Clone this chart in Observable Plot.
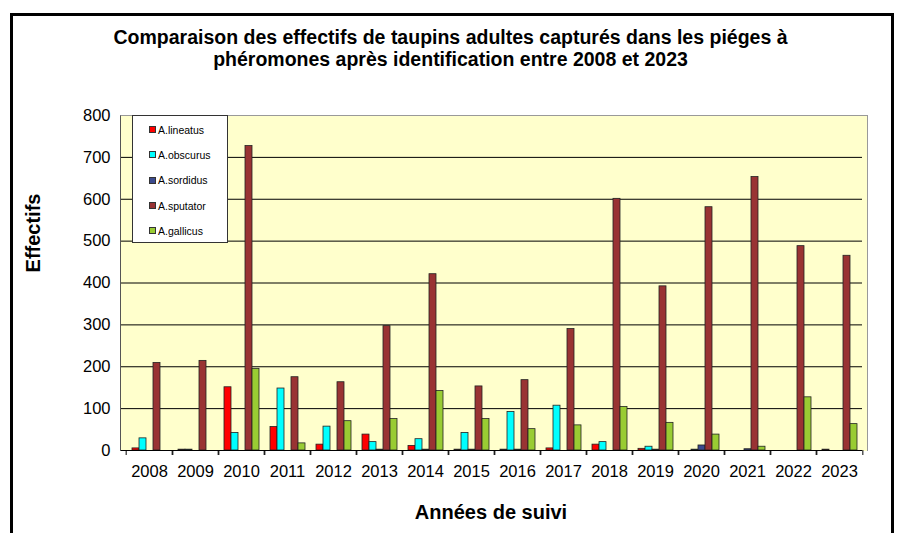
<!DOCTYPE html>
<html><head><meta charset="utf-8">
<script src="https://cdn.jsdelivr.net/npm/d3@7"></script>
<script src="https://cdn.jsdelivr.net/npm/@observablehq/plot@0.6"></script>
<style>
body{margin:0;background:#fff;font-family:"Liberation Sans",Arial,sans-serif;color:#000;}
#wrap{position:relative;width:901px;height:533px;overflow:hidden;background:#fff;}
#border{position:absolute;left:10px;top:13px;width:884px;height:540px;border:3px solid #000;box-sizing:border-box;}
#area{position:absolute;left:120px;top:115px;width:747px;height:336px;background:#ffffcc;box-sizing:border-box;}
#areaBorder{position:absolute;left:120px;top:115px;width:748px;height:336px;border-top:1px solid #999;border-right:1px solid #999;border-left:1px solid #555;box-sizing:border-box;pointer-events:none;}
#chart{position:absolute;left:0;top:0;}
#title{position:absolute;left:0;width:901px;top:26px;text-align:center;font-weight:bold;font-size:19.5px;line-height:22px;}
#ylabel{position:absolute;left:33px;top:233px;transform:translate(-50%,-50%) rotate(-90deg);font-weight:bold;font-size:20px;white-space:nowrap;}
#xlabel{position:absolute;left:491px;top:512px;transform:translate(-50%,-50%);font-weight:bold;font-size:20px;white-space:nowrap;}
#legend{position:absolute;left:132px;top:115px;width:96px;height:128px;background:#fff;border:1px solid #333;box-sizing:border-box;padding-top:1px;}
.item{height:25.3px;display:flex;align-items:center;padding-left:16px;font-size:10.5px;}
.sw{width:5px;height:5px;border:1px solid #333;margin-right:2px;}
</style></head>
<body>
<div id="wrap">
  <div id="area"></div>
  <div id="chart"></div>
  <div id="areaBorder"></div>
  <div id="border"></div>
  <div id="title">Comparaison des effectifs de taupins adultes capturés dans les piéges à<br>phéromones après identification entre 2008 et 2023</div>
  <div id="ylabel">Effectifs</div>
  <div id="xlabel">Années de suivi</div>
  <div id="legend"></div>
</div>
<script>
const years = ["2008","2009","2010","2011","2012","2013","2014","2015","2016","2017","2018","2019","2020","2021","2022","2023"];
const series = ["A.lineatus","A.obscurus","A.sordidus","A.sputator","A.gallicus"];
const colors = ["#ff0000","#00ffff","#3b4a8e","#993333","#99cc33"];
const lineatus = [5, 2, 151, 56, 14, 38, 11, 2, 2, 5, 14, 4, 0, 0, 0, 2];
const obscurus = [29, 2, 42, 148, 57, 20, 27, 42, 92, 107, 20, 9, 2, 0, 0, 0];
const sordidus = [0, 0, 0, 0, 0, 2, 2, 2, 2, 0, 0, 2, 12, 3, 0, 0];
const sputator = [209, 214, 727, 175, 163, 297, 421, 153, 168, 290, 601, 392, 581, 653, 488, 465];
const gallicus = [0, 0, 195, 17, 70, 75, 142, 75, 51, 60, 104, 66, 38, 9, 127, 63];
const yTicks = [0, 100, 200, 300, 400, 500, 600, 700, 800];

const values = [lineatus, obscurus, sordidus, sputator, gallicus];
const data = years.flatMap((yr, i) => series.map((s, j) => ({year: yr, series: s, value: values[j][i]})));

const W = 901, H = 533, mL = 120, mR = 34, mT = 115, mB = 83;
const bw = (W - mL - mR) / years.length;

const chart = Plot.plot({
  width: W, height: H,
  marginLeft: mL, marginRight: mR, marginTop: mT, marginBottom: mB,
  style: {background: "transparent", fontFamily: "Liberation Sans, Arial, sans-serif", fontSize: "16px", color: "#000", overflow: "visible"},
  fx: {domain: years, padding: 0, label: null, axis: null},
  x: {domain: series, paddingInner: 0, paddingOuter: 0.5, axis: null},
  y: {domain: [0, 800], label: null},
  color: {domain: series, range: colors},
  marks: [
    Plot.ruleY(yTicks.slice(1, -1), {stroke: "#000", strokeWidth: 1}),
    Plot.barY(data, {fx: "year", x: "series", y: "value", fill: "series", stroke: "#222", strokeWidth: 0.8, inset: 0}),
    Plot.ruleY([0], {stroke: "#000", strokeWidth: 1}),
    Plot.axisY(yTicks, {tickSize: 6, tickPadding: 10, fontSize: 16.5, label: null}),
    Plot.axisFx({anchor: "bottom", tickSize: 0, tickPadding: 15, fontSize: 16.5, label: null}),
    Plot.axisFx({anchor: "bottom", tickSize: 5, tickFormat: () => "", label: null, dx: bw / 2}),
    Plot.axisFx([years[0]], {anchor: "bottom", tickSize: 5, tickFormat: () => "", label: null, dx: -bw / 2})
  ]
});
document.getElementById("chart").append(chart);

const legend = document.getElementById("legend");
series.forEach((s, i) => {
  const row = document.createElement("div");
  row.className = "item";
  const sw = document.createElement("span");
  sw.className = "sw";
  sw.style.background = colors[i];
  row.append(sw, document.createTextNode(s));
  legend.append(row);
});
</script>
</body></html>
